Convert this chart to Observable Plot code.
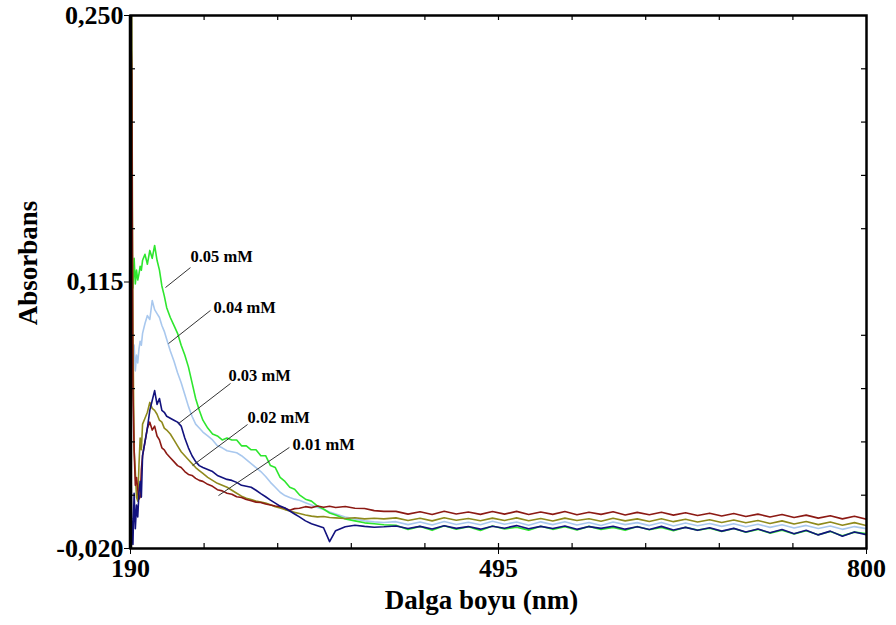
<!DOCTYPE html>
<html>
<head>
<meta charset="utf-8">
<script src="https://cdn.jsdelivr.net/npm/d3@7"></script>
<script src="https://cdn.jsdelivr.net/npm/@observablehq/plot@0.6"></script>
<style>
  html, body { margin: 0; padding: 0; background: #fff; }
  #chart { width: 896px; height: 625px; }
</style>
</head>
<body>
<div id="chart"></div>
<script>
// Wavelength samples (nm)
const wl = [
  190,191,192,193,194,195,196,197,198,199,200,
  202,204,206,208,210,212,214,216,218,220,
  223,226,229,232,235,238,241,244,247,250,
  254,258,262,266,270,274,278,282,286,290,294,298,302,306,310,314,318,322,326,330,
  335,340,345,350,355,
  360,368,376,384,392,400,
  410,420,430,440,450,460,470,480,490,500,510,520,530,540,550,560,570,580,590,600,
  610,620,630,640,650,660,670,680,690,700,710,720,730,740,750,760,770,780,790,800
];

// Absorbance, one list per concentration
const abs005 = [
  0.128,0.132,0.112,0.127,0.114,0.121,0.116,0.119,0.123,0.121,0.126,
  0.129,0.124,0.131,0.127,0.1335,0.126,0.121,0.113,0.108,0.102,
  0.097,0.093,0.089,0.083,0.078,0.072,0.064,0.056,0.050,0.045,
  0.041,0.038,0.037,0.035,0.036,0.035,0.035,0.032,0.032,0.030,0.030,0.027,0.027,0.022,0.021,0.016,0.014,0.011,0.010,0.0072,
  0.005,0.004,0.0015,0.000,-0.002,
  -0.003,-0.005,-0.006,-0.007,-0.0075,-0.008,
  -0.0082,-0.0104,-0.0088,-0.0108,-0.0085,-0.0102,-0.009,-0.0109,-0.0086,-0.0101,
  -0.0092,-0.0107,-0.0087,-0.0103,-0.009,-0.0106,-0.0088,-0.0104,-0.0093,-0.0108,
  -0.0089,-0.0105,-0.0094,-0.011,-0.0092,-0.0107,-0.0097,-0.0114,-0.0099,-0.0118,
  -0.0103,-0.0122,-0.0107,-0.0126,-0.011,-0.013,-0.0114,-0.0135,-0.0117,-0.0125
];
const abs004 = [
  0.060,0.088,0.072,0.083,0.070,0.078,0.074,0.081,0.085,0.083,0.089,
  0.094,0.098,0.096,0.1056,0.101,0.099,0.097,0.093,0.090,0.086,
  0.080,0.075,0.069,0.064,0.058,0.052,0.047,0.043,0.041,0.039,
  0.037,0.035,0.032,0.031,0.0295,0.029,0.0285,0.027,0.025,0.023,0.021,0.019,0.0165,0.0135,0.011,0.0085,0.0068,0.0058,0.005,0.0044,
  0.0032,0.002,0.0008,-0.0002,-0.0015,
  -0.0025,-0.004,-0.005,-0.006,-0.0065,-0.0068,
  -0.0064,-0.0079,-0.0066,-0.0081,-0.0063,-0.0078,-0.0067,-0.008,-0.0062,-0.0077,
  -0.0066,-0.0082,-0.0065,-0.0079,-0.0064,-0.0081,-0.0068,-0.0083,-0.0066,-0.0079,
  -0.0069,-0.0084,-0.0068,-0.0086,-0.0071,-0.0085,-0.0073,-0.0088,-0.0075,-0.009,
  -0.0077,-0.0093,-0.008,-0.0096,-0.0083,-0.0099,-0.0086,-0.0103,-0.0089,-0.01
];
const abs003 = [
  0.040,-0.005,-0.018,0.008,-0.010,0.002,-0.004,0.008,0.014,0.006,0.027,
  0.034,0.041,0.050,0.055,0.060,0.053,0.056,0.050,0.049,0.047,
  0.046,0.045,0.044,0.042,0.036,0.031,0.027,0.024,0.022,0.021,
  0.020,0.019,0.017,0.016,0.015,0.0145,0.0135,0.012,0.0115,0.011,0.0095,0.0078,0.0062,0.0045,0.003,0.0015,0.0005,-0.001,-0.0025,-0.004,
  -0.006,-0.0075,-0.0085,-0.0095,-0.0165,
  -0.011,-0.009,-0.0082,-0.0088,-0.0092,-0.009,
  -0.0086,-0.0099,-0.0088,-0.0101,-0.0085,-0.0098,-0.0089,-0.0102,-0.0087,-0.0097,
  -0.0084,-0.01,-0.0088,-0.0099,-0.0086,-0.0103,-0.0089,-0.0098,-0.0087,-0.0102,
  -0.009,-0.0104,-0.0088,-0.0106,-0.0093,-0.0108,-0.0095,-0.0112,-0.0098,-0.0116,
  -0.0101,-0.012,-0.0104,-0.0125,-0.0108,-0.0131,-0.0112,-0.0138,-0.0116,-0.013
];
const abs002 = [
  0.240,0.250,0.090,0.030,0.019,0.006,0.004,0.022,0.036,0.030,0.043,
  0.046,0.049,0.054,0.051,0.050,0.048,0.045,0.044,0.041,0.040,
  0.038,0.035,0.032,0.029,0.027,0.025,0.023,0.021,0.0195,0.018,
  0.016,0.0145,0.013,0.012,0.011,0.0095,0.008,0.0065,0.0055,0.0048,0.004,0.0035,0.003,0.0022,0.0012,0.0005,-0.0003,-0.001,-0.0017,-0.0023,
  -0.003,-0.0036,-0.004,-0.0038,-0.0043,
  -0.0045,-0.0048,-0.0044,-0.005,-0.0047,-0.005,
  -0.0045,-0.0058,-0.0047,-0.006,-0.0044,-0.0057,-0.0048,-0.0059,-0.0046,-0.0058,
  -0.0045,-0.0059,-0.0048,-0.0061,-0.0046,-0.0058,-0.0049,-0.0062,-0.0047,-0.006,
  -0.005,-0.0063,-0.0049,-0.0064,-0.0052,-0.0066,-0.0054,-0.0068,-0.0056,-0.007,
  -0.0058,-0.0073,-0.006,-0.0076,-0.0063,-0.0079,-0.0066,-0.0082,-0.0069,-0.0084
];
const abs001 = [
  0.250,0.220,0.060,0.030,0.012,0.016,0.010,0.005,0.006,0.020,0.027,
  0.034,0.041,0.044,0.040,0.042,0.037,0.035,0.031,0.030,0.028,
  0.026,0.024,0.022,0.021,0.019,0.0175,0.017,0.0155,0.0145,0.014,
  0.0125,0.0115,0.0098,0.0092,0.008,0.0075,0.0062,0.0058,0.0048,0.0042,0.0035,0.0033,0.0025,0.002,0.0015,0.0012,0.0004,-0.0006,0.0002,0.0004,
  0.0012,0.0007,0.0015,0.0009,0.0014,
  0.0008,0.0013,0.0004,0.0003,-0.0008,-0.0012,
  -0.0012,-0.0026,-0.0014,-0.0028,-0.0011,-0.0025,-0.0015,-0.0027,-0.0013,-0.0026,
  -0.0012,-0.0028,-0.0015,-0.0027,-0.0013,-0.0029,-0.0016,-0.0027,-0.0014,-0.003,
  -0.0017,-0.0029,-0.0016,-0.0031,-0.0019,-0.0033,-0.0021,-0.0035,-0.0023,-0.0038,
  -0.0026,-0.004,-0.0028,-0.0043,-0.0031,-0.0046,-0.0034,-0.005,-0.0037,-0.0052
];

// Series names and colours (drawing order)
const seriesNames = ["0.04 mM", "0.05 mM", "0.02 mM", "0.01 mM", "0.03 mM"];
const seriesValues = [abs004, abs005, abs002, abs001, abs003];
const seriesColors = ["#a9c8ee", "#2ee62e", "#8f8a1c", "#8c1a14", "#12127e"];

// Annotation labels and leader lines (data coordinates)
const labelNames = ["0.05 mM", "0.04 mM", "0.03 mM", "0.02 mM", "0.01 mM"];
const labelX = [239.7, 258.8, 271.2, 287.0, 324.3];
const labelY = [0.1277, 0.1018, 0.0676, 0.0461, 0.0327];
const leadX1 = [219.0, 221.5, 229.8, 241.4, 262.9];
const leadY1 = [0.1122, 0.0838, 0.0433, 0.0220, 0.0068];
const leadX2 = [239.7, 256.3, 272.9, 287.0, 321.7];
const leadY2 = [0.1223, 0.1006, 0.0636, 0.0428, 0.0312];

// Axis ticks
const xTicks = [190, 495, 800];
const yTicks = [-0.020, 0.115, 0.250];
const xMinor = [251, 312, 373, 434, 495, 556, 617, 678, 739];
const yMinor = [0.007, 0.034, 0.061, 0.088, 0.142, 0.169, 0.196, 0.223];

const W = 896, H = 625;
const mL = 130, mR = 30, mT = 15, mB = 77;
const plotW = W - mL - mR, plotH = H - mT - mB;

const rows = seriesNames.flatMap((name, k) =>
  wl.map((w, i) => ({ wl: w, A: seriesValues[k][i], s: name }))
);
const labels = labelNames.map((t, i) => ({
  t, x: labelX[i], y: labelY[i], x1: leadX1[i], y1: leadY1[i], x2: leadX2[i], y2: leadY2[i]
}));

const font = "'Liberation Serif', 'Times New Roman', serif";

const chart = Plot.plot({
  width: W,
  height: H,
  marginLeft: mL,
  marginRight: mR,
  marginTop: mT,
  marginBottom: mB,
  style: { fontFamily: font, fontSize: "26px", fontWeight: "bold", color: "#000", background: "#fff" },
  x: { domain: [190, 800] },
  y: { domain: [-0.020, 0.250] },
  color: { domain: seriesNames, range: seriesColors },
  marks: [
    Plot.line(rows, { x: "wl", y: "A", z: "s", stroke: "s", strokeWidth: 1.6, clip: true }),
    Plot.link(labels, { x1: "x1", y1: "y1", x2: "x2", y2: "y2", stroke: "#333", strokeWidth: 1 }),
    Plot.text(labels, { x: "x", y: "y", text: "t", textAnchor: "start", fontSize: 16.5, fontWeight: "bold", fontFamily: font, fill: "#000" }),
    // inward minor ticks
    Plot.tickX(xMinor, { x: d => d, insetTop: plotH - 5, stroke: "#000", strokeWidth: 1.2 }),
    Plot.tickX(xMinor, { x: d => d, insetBottom: plotH - 5, stroke: "#000", strokeWidth: 1.2 }),
    Plot.tickY(yMinor, { y: d => d, insetRight: plotW - 5, stroke: "#000", strokeWidth: 1.2 }),
    Plot.tickY(yMinor, { y: d => d, insetLeft: plotW - 5, stroke: "#000", strokeWidth: 1.2 }),
    Plot.frame({ stroke: "#000", strokeWidth: 2.5 }),
    Plot.ruleX([190], { stroke: "#000", strokeWidth: 3.5 }),
    Plot.axisX(xTicks, { anchor: "bottom", tickSize: 6, tickPadding: 4, label: null, tickFormat: d => String(d), fontSize: 26, fontWeight: "bold" }),
    Plot.axisY(yTicks, { anchor: "left", tickSize: 6, tickPadding: 1, label: null, tickFormat: d => d.toFixed(3).replace(".", ","), fontSize: 26, fontWeight: "bold" }),
    Plot.text(["Dalga boyu (nm)"], { frameAnchor: "bottom", textAnchor: "middle", lineAnchor: "middle", dx: -17, dy: 52, fontSize: 27, fontWeight: "bold", fontFamily: font, fill: "#000" }),
    Plot.text(["Absorbans"], { frameAnchor: "left", textAnchor: "middle", lineAnchor: "middle", dx: -102, dy: -19, rotate: -90, fontSize: 27, fontWeight: "bold", fontFamily: font, fill: "#000" })
  ]
});

document.getElementById("chart").appendChild(chart);
</script>
</body>
</html>
